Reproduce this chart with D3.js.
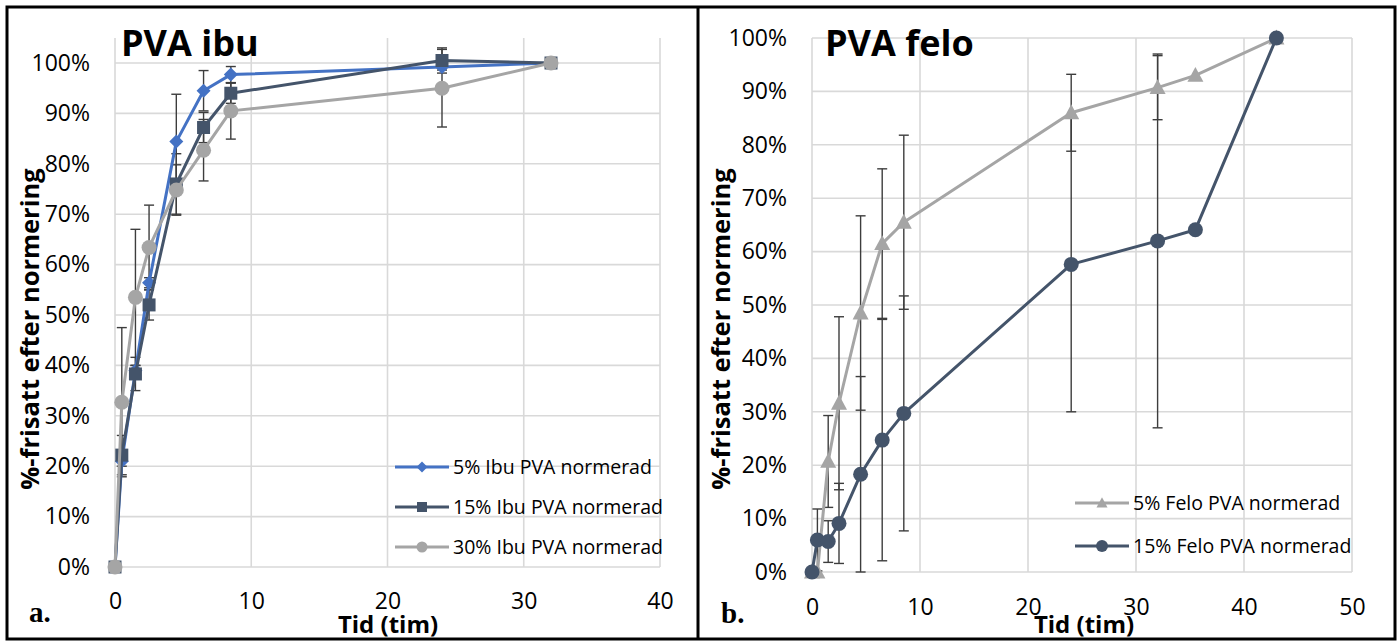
<!DOCTYPE html>
<html><head><meta charset="utf-8">
<script src="https://cdn.jsdelivr.net/npm/d3@7"></script>
<style>body{margin:0;background:#fff}svg{display:block}</style>
</head><body>
<script>
// ---- Data (left panel: PVA ibu) ----
const ibuTimes = [0, 0.5, 1.5, 2.5, 4.5, 6.5, 8.5, 24, 32];
const ibu5     = [0, 0.21, 0.39, 0.564, 0.844, 0.945, 0.977, 0.992, 1.0];
const ibu5Err  = [0, 0.01, 0.01, 0.01, 0.094, 0.04, 0.016, 0.006, 0];
const ibu15    = [0, 0.222, 0.383, 0.52, 0.76, 0.872, 0.94, 1.005, 1.0];
const ibu15Err = [0, 0.039, 0.033, 0.03, 0.06, 0.03, 0.02, 0.025, 0];
const ibu30    = [0, 0.327, 0.535, 0.634, 0.748, 0.827, 0.905, 0.95, 1.0];
const ibu30Err = [0, 0.148, 0.135, 0.084, 0.05, 0.061, 0.056, 0.077, 0];
const ibuNames = ["5% Ibu PVA normerad", "15% Ibu PVA normerad", "30% Ibu PVA normerad"];
const ibuXTicks = [0, 10, 20, 30, 40];

// ---- Data (right panel: PVA felo) ----
const feloTimes = [0, 0.5, 1.5, 2.5, 4.5, 6.5, 8.5, 24, 32, 35.5, 43];
const felo5     = [0, 0, 0.207, 0.316, 0.485, 0.615, 0.655, 0.86, 0.907, 0.93, 1.0];
const felo5Err  = [0, 0, 0.086, 0.162, 0.182, 0.14, 0.163, 0.072, 0.06, 0, 0];
const felo15    = [0, 0.06, 0.057, 0.091, 0.183, 0.247, 0.297, 0.576, 0.62, 0.641, 1.0];
const felo15Err = [0, 0.058, 0.039, 0.075, 0.183, 0.226, 0.22, 0.276, 0.35, 0, 0];
const feloNames = ["5% Felo PVA normerad", "15% Felo PVA normerad"];
const feloXTicks = [0, 10, 20, 30, 40, 50];

const yTicks = [0, 0.1, 0.2, 0.3, 0.4, 0.5, 0.6, 0.7, 0.8, 0.9, 1.0];

const W = 1399, H = 644;
const FONT = "'Open Sans', sans-serif";
const svg = d3.select("body").append("svg").attr("width", W).attr("height", H);
svg.append("rect").attr("width", W).attr("height", H).attr("fill", "#fff");

function markerPath(shape, s) {
  if (shape === "diamond") return `M0,${-s}L${s},0L0,${s}L${-s},0Z`;
  if (shape === "square") return `M${-s},${-s}H${s}V${s}H${-s}Z`;
  if (shape === "triangle") return `M0,${-s*1.05}L${s},${s*0.8}L${-s},${s*0.8}Z`;
  return null;
}
function drawMarker(g, shape, x, y, s, color) {
  if (shape === "circle") {
    g.append("circle").attr("cx", x).attr("cy", y).attr("r", s).attr("fill", color);
  } else {
    g.append("path").attr("transform", `translate(${x},${y})`).attr("d", markerPath(shape, s)).attr("fill", color);
  }
}

function panel(cfg) {
  const x = d3.scaleLinear().domain(cfg.xDomain).range([cfg.x0, cfg.x1]);
  const y = d3.scaleLinear().domain([0, 1]).range([cfg.y0, cfg.y100]);
  const g = svg.append("g");

  // gridlines
  g.selectAll(".hg").data(yTicks).join("line")
    .attr("x1", cfg.x0).attr("x2", cfg.x1)
    .attr("y1", d => y(d)).attr("y2", d => y(d))
    .attr("stroke", "#d9d9d9").attr("stroke-width", 1.6);
  g.selectAll(".vg").data(cfg.xTicks).join("line")
    .attr("x1", d => x(d)).attr("x2", d => x(d))
    .attr("y1", cfg.y0).attr("y2", cfg.gridTop)
    .attr("stroke", "#d9d9d9").attr("stroke-width", 1.6);

  // y axis labels
  const ya = d3.axisLeft(y).tickValues(yTicks).tickFormat(d3.format(".0%")).tickSize(0).tickPadding(0);
  const yg = g.append("g").attr("transform", `translate(${cfg.yLabelX},0)`).call(ya);
  yg.select(".domain").remove();
  yg.selectAll("text").attr("font-family", FONT).attr("font-size", 23).attr("fill", "#000");

  // x axis labels
  const xa = d3.axisBottom(x).tickValues(cfg.xTicks).tickFormat(d3.format("d")).tickSize(0).tickPadding(0);
  const xg = g.append("g").attr("transform", `translate(0,${cfg.xLabelY})`).call(xa);
  xg.select(".domain").remove();
  xg.selectAll("text").attr("font-family", FONT).attr("font-size", 23).attr("fill", "#000")
    .attr("dy", "0.35em");

  // error bars
  cfg.series.forEach(s => {
    const pts = cfg.times.map((t, i) => ({t, v: s.values[i], e: s.err[i]}));
    pts.filter(p => p.e > 0).forEach(p => {
      const cx = x(p.t), ylo = y(Math.max(0, p.v - p.e)), yhi = y(p.v + p.e);
      g.append("line").attr("x1", cx).attr("x2", cx).attr("y1", ylo).attr("y2", yhi)
        .attr("stroke", "#3d3d3d").attr("stroke-width", 1.4);
      [ylo, yhi].forEach(yy => g.append("line").attr("x1", cx - 5).attr("x2", cx + 5)
        .attr("y1", yy).attr("y2", yy).attr("stroke", "#3d3d3d").attr("stroke-width", 1.4));
    });
  });
  // lines + markers
  cfg.series.forEach(s => {
    const pts = cfg.times.map((t, i) => ({t, v: s.values[i]}));
    g.append("path").datum(pts)
      .attr("d", d3.line().x(d => x(d.t)).y(d => y(d.v)))
      .attr("fill", "none").attr("stroke", s.color).attr("stroke-width", 3).attr("stroke-linejoin", "round");
    pts.forEach(p => drawMarker(g, s.shape, x(p.t), y(p.v), s.size, s.color));
  });

  // legend
  cfg.series.forEach((s, i) => {
    const ly = cfg.legY + i * cfg.legGap;
    g.append("line").attr("x1", cfg.legX).attr("x2", cfg.legX + 54).attr("y1", ly).attr("y2", ly)
      .attr("stroke", s.color).attr("stroke-width", 3);
    drawMarker(g, s.shape, cfg.legX + 27, ly, s.legSize, s.color);
    g.append("text").attr("x", cfg.legX + 58).attr("y", ly).attr("dy", "0.35em")
      .attr("font-family", FONT).attr("font-size", 19.5).attr("fill", "#000").text(s.name);
  });

  // titles
  g.append("text").attr("x", cfg.titleX).attr("y", cfg.titleY)
    .attr("font-family", FONT).attr("font-weight", "bold").attr("font-size", 36).attr("fill", "#000").text(cfg.title);
  g.append("text").attr("transform", `translate(${cfg.yTitleX},${cfg.yTitleY}) rotate(-90)`)
    .attr("text-anchor", "middle").attr("dy", "0.35em")
    .attr("font-family", FONT).attr("font-weight", "bold").attr("font-size", 25.5).attr("fill", "#000")
    .text("%-frisatt efter normering");
  g.append("text").attr("x", cfg.xTitleX).attr("y", cfg.xTitleY).attr("text-anchor", "middle")
    .attr("font-family", FONT).attr("font-weight", "bold").attr("font-size", 24).attr("fill", "#000").text("Tid (tim)");
  g.append("text").attr("x", cfg.tagX).attr("y", cfg.tagY)
    .attr("font-family", "'Liberation Serif', 'DejaVu Serif', serif").attr("font-weight", "bold").attr("font-size", 29).attr("fill", "#000").text(cfg.tag);
}

panel({
  xDomain: [0, 40], x0: 115, x1: 660, y0: 567, y100: 63, gridTop: 38, xTicks: ibuXTicks,
  yLabelX: 90, xLabelY: 601, times: ibuTimes,
  series: [
    {name: ibuNames[0], values: ibu5, err: ibu5Err, color: "#4472c4", shape: "diamond", size: 7, legSize: 5.5},
    {name: ibuNames[1], values: ibu15, err: ibu15Err, color: "#44546a", shape: "square", size: 6.5, legSize: 5},
    {name: ibuNames[2], values: ibu30, err: ibu30Err, color: "#a5a5a5", shape: "circle", size: 7.5, legSize: 5.5}
  ],
  legX: 395, legY: 467, legGap: 40,
  title: "PVA ibu", titleX: 121, titleY: 56,
  yTitleX: 30, yTitleY: 329, xTitleX: 388, xTitleY: 633, tag: "a.", tagX: 29, tagY: 622
});

panel({
  xDomain: [0, 50], x0: 812, x1: 1352, y0: 572, y100: 38, gridTop: 38, xTicks: feloXTicks,
  yLabelX: 787, xLabelY: 607, times: feloTimes,
  series: [
    {name: feloNames[0], values: felo5, err: felo5Err, color: "#a5a5a5", shape: "triangle", size: 8, legSize: 5.5},
    {name: feloNames[1], values: felo15, err: felo15Err, color: "#44546a", shape: "circle", size: 7.5, legSize: 6}
  ],
  legX: 1075, legY: 503, legGap: 43,
  title: "PVA felo", titleX: 825, titleY: 56,
  yTitleX: 721, yTitleY: 329, xTitleX: 1084, xTitleY: 633, tag: "b.", tagX: 721, tagY: 623
});

// frame
svg.append("rect").attr("x", 7).attr("y", 7).attr("width", 1388).attr("height", 632)
  .attr("fill", "none").attr("stroke", "#000").attr("stroke-width", 3);
svg.append("line").attr("x1", 698).attr("x2", 698).attr("y1", 7).attr("y2", 639)
  .attr("stroke", "#000").attr("stroke-width", 3);
</script>
</body></html>
